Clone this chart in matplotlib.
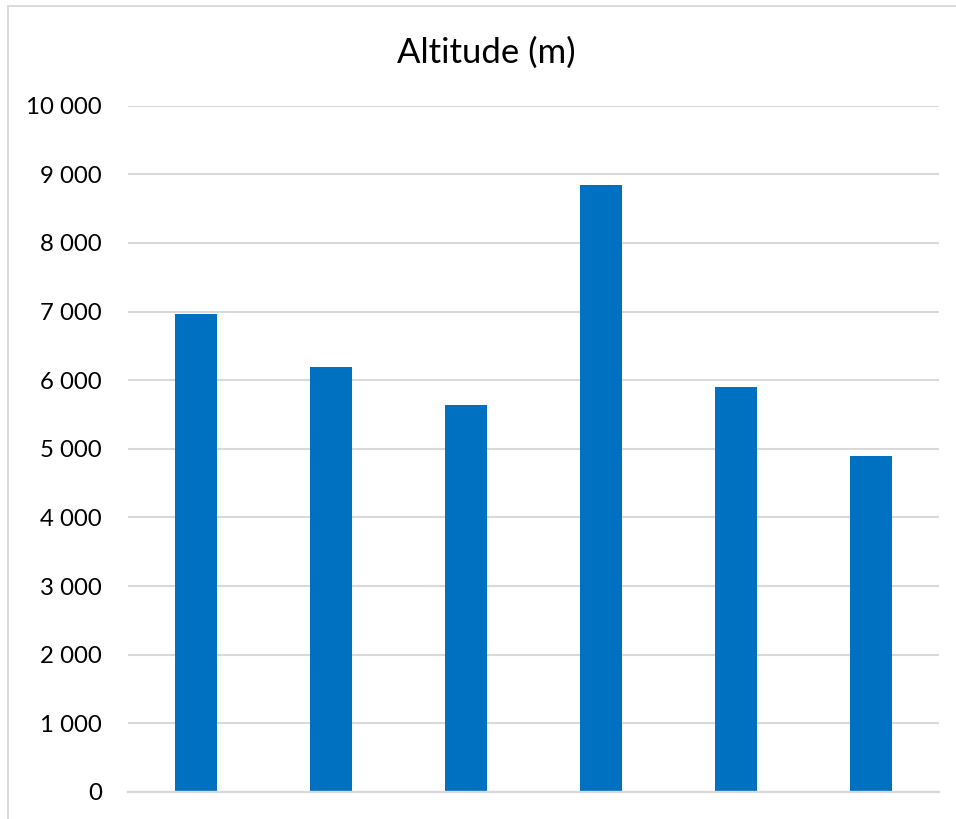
import matplotlib.pyplot as plt
from matplotlib.patches import Rectangle
from matplotlib.ticker import FuncFormatter

plt.rcParams["font.family"] = ["Lato", "DejaVu Sans"]

summits = ["Aconcagua", "Denali", "Elbrus", "Everest", "Kilimanjaro", "Vinson"]
altitudes = [6962, 6190, 5642, 8848, 5895, 4892]
y_ticks = list(range(0, 10001, 1000))

grid_color = "#d9d9d9"
bar_color = "#0070c0"

fig = plt.figure(figsize=(9.56, 8.19), dpi=100)
ax = fig.add_axes([0.134, 0.033, 0.848, 0.838])

x = range(len(summits))
ax.bar(x, altitudes, width=0.31, color=bar_color, zorder=3)

ax.set_xlim(-0.5, len(summits) - 0.5)
ax.set_ylim(0, 10000)
ax.set_yticks(y_ticks)
ax.yaxis.set_major_formatter(
    FuncFormatter(lambda v, _: f"{int(v):,}".replace(",", " "))
)
ax.tick_params(axis="y", length=0, pad=19, labelsize=17.3, labelcolor="#000000")
ax.set_xticks([])

ax.grid(axis="y", color=grid_color, linewidth=1.5, zorder=0)
ax.set_axisbelow(True)
for side in ["top", "right", "left"]:
    ax.spines[side].set_visible(False)
ax.spines["bottom"].set_color(grid_color)
ax.spines["bottom"].set_linewidth(1.7)
ax.spines["bottom"].set_zorder(4)

fig.text(0.509, 0.936, "Altitude (m)", ha="center", va="center", fontsize=25)

# chart area frame, running off the right and bottom edges
fig.patches.append(Rectangle((8 / 956, -0.05), 1.05, 1.05 - 6 / 819,
                             transform=fig.transFigure, fill=False,
                             edgecolor=grid_color, linewidth=1.4))

fig.savefig("out.png", dpi=100, facecolor="white")
